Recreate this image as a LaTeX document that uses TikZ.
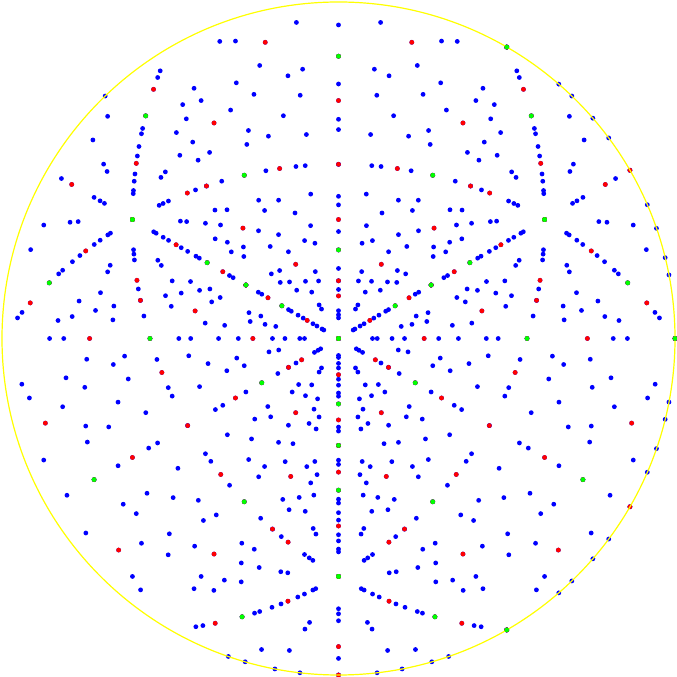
\documentclass[tikz,border=0pt]{standalone}
\definecolor{poleblue}{RGB}{0,0,255}
\definecolor{polered}{RGB}{255,0,0}
\definecolor{polegreen}{RGB}{0,255,0}
\definecolor{rimyellow}{RGB}{255,255,0}
\newcommand\poledot[4]{%
  \pgfmathsetmacro\pnorm{sqrt((#1)*(#1)+(#2)*(#2)+(#3)*(#3))}%
  \pgfmathsetmacro\pz{1+((#1)+(#2)+(#3))/(1.7320508*\pnorm)}%
  \pgfmathsetmacro\px{\rad*((#1)-(#2))/(1.4142136*\pnorm*\pz)}%
  \pgfmathsetmacro\py{\rad*(2*(#3)-(#1)-(#2))/(2.4494897*\pnorm*\pz)}%
  \fill[#4] (\cx+\px,\cy+\py) circle (2.4);}
\newcommand\pole[4]{%
  \pgfmathtruncatemacro\psum{#1+#2+#3}%
  \pgfmathtruncatemacro\pkeep{(\psum>0) || ((\psum==0) && ((#1>0) || ((#1==0) && (#3>0))))}%
  \ifnum\pkeep=1 \poledot{#1}{#2}{#3}{#4}\fi}
\begin{document}
\begin{tikzpicture}[x=1pt, y=1pt, line join=round, line cap=round]
\def\cx{338.5}\def\cy{338.5}\def\rad{336.5}
\useasboundingbox (0,0) rectangle (677,677);
\fill[white] (0,0) rectangle (677,677);
\foreach \h in {-9,-7,...,9}\foreach \k in {-9,-7,...,9}\foreach \l in {-9,-7,...,9}{\pole{\h}{\k}{\l}{poleblue}}
\foreach \h in {-10,-8,...,10}\foreach \k in {-10,-8,...,10}\foreach \l in {-10,-8,...,10}{%
  \pgfmathtruncatemacro\pmod{mod(\h+\k+\l,4)}\ifnum\pmod=0 \pole{\h}{\k}{\l}{poleblue}\fi}
\poledot{-8}{2}{6}{poleblue}
\foreach \h in {-5,-3,...,5}\foreach \k in {-5,-3,...,5}\foreach \l in {-5,-3,...,5}{\pole{\h}{\k}{\l}{polered}}
\foreach \h in {-4,-2,...,4}\foreach \k in {-4,-2,...,4}\foreach \l in {-4,-2,...,4}{%
  \pgfmathtruncatemacro\pmod{mod(\h+\k+\l,4)}\ifnum\pmod=0 \pole{\h}{\k}{\l}{polered}\fi}
\draw[rimyellow, line width=1.2] (\cx,\cy) circle (\rad);
\foreach \h in {-3,-1,1,3}\foreach \k in {-3,-1,1,3}\foreach \l in {-3,-1,1,3}{\pole{\h}{\k}{\l}{polegreen}}
\foreach \h in {-2,0,2}\foreach \k in {-2,0,2}\foreach \l in {-2,0,2}{%
  \pgfmathtruncatemacro\pmod{mod(\h+\k+\l,4)}\ifnum\pmod=0 \pole{\h}{\k}{\l}{polegreen}\fi}
\end{tikzpicture}
\end{document}
